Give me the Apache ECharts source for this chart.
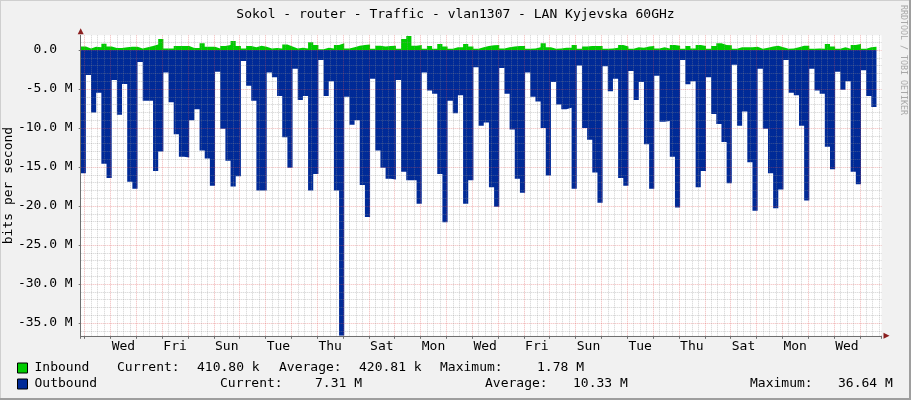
<!DOCTYPE html>
<html>
<head>
<meta charset="utf-8">
<script src="https://cdn.jsdelivr.net/npm/echarts@6/dist/echarts.min.js"></script>
<style>
html,body{margin:0;padding:0;background:#f1f1f1;}
#chart{width:911px;height:400px;}
</style>
</head>
<body>
<div id="chart"></div>
<script>
// ---- data (time in days relative to the first midnight shown; values in Mbit/s) ----
const weekdays = ['Tue', 'Wed', 'Thu', 'Fri', 'Sat', 'Sun', 'Mon'];
const firstSampleDay = -0.154;
const stepDays = 0.2;
const axisStartDay = -0.154;
const axisEndDay = 30.84;

const inboundM = [
  0.45, 0.2, 0.4, 0.35, 0.8, 0.45, 0.25, 0.25, 0.35, 0.4,
  0.4, 0.2, 0.35, 0.5, 0.7, 1.4, 0.2, 0.2, 0.5, 0.5,
  0.5, 0.25, 0.25, 0.85, 0.4, 0.4, 0.2, 0.5, 0.65, 1.15,
  0.5, 0.2, 0.5, 0.35, 0.55, 0.4, 0.2, 0.25, 0.2, 0.7,
  0.45, 0.2, 0.3, 0.2, 1.0, 0.65, 0.1, 0.3, 0.2, 0.65,
  0.85, 0.2, 0.35, 0.55, 0.65, 0.7, 0.15, 0.55, 0.45, 0.5,
  0.55, 0.15, 1.4, 1.78, 0.55, 0.65, 0.15, 0.5, 0.15, 0.75,
  0.45, 0.15, 0.35, 0.35, 0.75, 0.45, 0.15, 0.35, 0.5, 0.6,
  0.65, 0.2, 0.35, 0.45, 0.5, 0.5, 0.15, 0.2, 0.35, 0.85,
  0.35, 0.15, 0.2, 0.3, 0.3, 0.65, 0.15, 0.45, 0.5, 0.5,
  0.5, 0.15, 0.2, 0.3, 0.65, 0.45, 0.15, 0.35, 0.3, 0.45,
  0.5, 0.2, 0.35, 0.2, 0.65, 0.55, 0.15, 0.5, 0.2, 0.65,
  0.5, 0.15, 0.5, 0.85, 0.65, 0.6, 0.15, 0.35, 0.35, 0.35,
  0.4, 0.15, 0.3, 0.45, 0.55, 0.35, 0.15, 0.2, 0.35, 0.55,
  0.55, 0.15, 0.2, 0.15, 0.75, 0.45, 0.15, 0.35, 0.15, 0.65,
  0.75, 0.15, 0.35, 0.41
];

const outboundM = [
  15.8, 3.2, 8.0, 5.5, 14.6, 16.4, 3.85, 8.3, 4.36, 16.9,
  17.8, 1.54, 6.5, 6.5, 15.5, 13.0, 2.9, 6.7, 10.8, 13.7,
  13.8, 9.0, 7.6, 12.9, 13.9, 17.4, 2.8, 10.1, 14.2, 17.5,
  16.2, 1.4, 4.6, 6.5, 18.0, 18.0, 2.9, 3.5, 5.9, 11.2,
  15.1, 2.4, 6.4, 5.9, 18.0, 15.9, 1.3, 5.9, 4.0, 18.0,
  36.64, 6.0, 9.6, 9.0, 17.3, 21.4, 3.7, 12.9, 15.1, 16.5,
  16.6, 3.85, 15.6, 16.7, 16.7, 19.7, 2.9, 5.2, 5.6, 15.9,
  22.1, 6.5, 8.1, 5.8, 19.7, 16.7, 2.2, 9.7, 9.3, 17.6,
  20.1, 2.3, 5.6, 10.2, 16.5, 18.3, 2.9, 6.0, 6.6, 10.0,
  16.1, 4.1, 7.0, 7.6, 7.4, 17.8, 2.0, 10.0, 11.5, 15.7,
  19.6, 2.1, 5.3, 3.7, 16.4, 17.4, 2.7, 6.4, 4.1, 12.1,
  17.8, 3.3, 9.2, 9.1, 13.7, 20.2, 1.3, 4.4, 4.0, 17.6,
  15.5, 3.5, 8.2, 9.5, 11.8, 17.1, 1.9, 9.7, 7.9, 14.4,
  20.6, 2.4, 10.1, 15.8, 20.3, 17.9, 1.3, 5.5, 5.8, 9.7,
  19.3, 2.4, 5.2, 5.6, 12.4, 15.3, 2.8, 5.1, 4.0, 15.6,
  17.2, 2.6, 5.9, 7.31
];

const yMinBits = -36.64e6;
const yMaxBits = 1.88e6;
const yStepBits = 5e6;

const titleText = 'Sokol - router - Traffic - vlan1307 - LAN Kyjevska 60GHz';
const seriesNames = ['Inbound', 'Outbound'];
const statLabels = ['Current:', 'Average:', 'Maximum:'];
const inboundStats = ['410.80 k', '420.81 k', '1.78 M'];
const outboundStats = ['7.31 M', '10.33 M', '36.64 M'];

// ---- build ----
const MONO = '"DejaVu Sans Mono", monospace';
const GREEN = '#00CC00';
const BLUE = '#002A97';
const AXIS = '#6f6f6f';
const ARROW = '#8b1f1f';

function toSteps(vals, sign) {
  const pts = vals.map((v, i) => [firstSampleDay + i * stepDays, sign * v * 1e6]);
  pts.push([firstSampleDay + vals.length * stepDays, sign * vals[vals.length - 1] * 1e6]);
  return pts;
}

function yLabel(v) {
  if (Math.abs(v) < 1) return '0.0  ';
  return (v / 1e6).toFixed(1) + ' M';
}

function dayLabel(v) {
  const d = Math.round(v);
  if (Math.abs(v - d) > 1e-6 || d < 0) return '';
  return d % 2 === 1 ? weekdays[d % 7] : '';
}

function txt(text, x, y, extra) {
  return {
    type: 'text', x: x, y: y, silent: true,
    style: Object.assign({
      text: text, font: '13px ' + MONO, fill: '#000',
      align: 'left', textAlign: 'left', verticalAlign: 'middle', textVerticalAlign: 'middle'
    }, extra || {})
  };
}

const row1Y = 368, row2Y = 384;
const graphics = [
  { type: 'line', silent: true, shape: { x1: 0, y1: 0.5, x2: 911, y2: 0.5 }, style: { stroke: '#cfcfcf', lineWidth: 1 } },
  { type: 'line', silent: true, shape: { x1: 0.5, y1: 0, x2: 0.5, y2: 400 }, style: { stroke: '#cfcfcf', lineWidth: 1 } },
  { type: 'line', silent: true, shape: { x1: 0, y1: 399, x2: 911, y2: 399 }, style: { stroke: '#9e9e9e', lineWidth: 2 } },
  { type: 'line', silent: true, shape: { x1: 910, y1: 0, x2: 910, y2: 400 }, style: { stroke: '#9e9e9e', lineWidth: 2 } },
  txt(titleText, 455.5, 14.5, { align: 'center', textAlign: 'center' }),
  { type: 'text', x: 903, y: 60, rotation: -Math.PI / 2, silent: true,
    style: { text: 'RRDTOOL / TOBI OETIKER', font: '8.3px ' + MONO, fill: '#a8a8a8',
      align: 'center', textAlign: 'center', verticalAlign: 'middle', textVerticalAlign: 'middle' } },
  txt(statLabels[0], 117, row1Y), txt(inboundStats[0], 197, row1Y),
  txt(statLabels[1], 279, row1Y), txt(inboundStats[1], 359, row1Y),
  txt(statLabels[2], 440, row1Y), txt(inboundStats[2], 537, row1Y),
  txt(statLabels[0], 220, row2Y), txt(outboundStats[0], 315, row2Y),
  txt(statLabels[1], 485, row2Y), txt(outboundStats[1], 573, row2Y),
  txt(statLabels[2], 750, row2Y), txt(outboundStats[2], 838, row2Y)
];

const minorGrid = { color: 'rgba(143,143,143,0.42)', width: 1, type: [1, 1] };
const majorGrid = { color: 'rgba(222,80,80,0.42)', width: 1, type: [1, 1] };

const chart = echarts.init(document.getElementById('chart'), null, { renderer: 'canvas' });
chart.setOption({
  animation: false,
  backgroundColor: '#f1f1f1',
  grid: { left: 80.7, right: 29.5, top: 35.3, bottom: 64.2, show: true, backgroundColor: '#ffffff', borderWidth: 0,
    containLabel: false, outerBoundsMode: 'none' },
  legend: {
    data: seriesNames, orient: 'vertical', left: 17, top: 361.5, height: 60, padding: 0,
    itemWidth: 10, itemHeight: 10, itemGap: 3, icon: 'rect',
    itemStyle: { borderColor: '#000', borderWidth: 1 },
    textStyle: { fontFamily: MONO, fontSize: 13, color: '#000', padding: [0, 0, 0, 2], lineHeight: 10 },
    selectedMode: false
  },
  xAxis: [
    {
      type: 'value', min: axisStartDay, max: axisEndDay, minInterval: 1, maxInterval: 1, z: 5,
      axisLine: { show: true, onZero: false, lineStyle: { color: AXIS, width: 1 } },
      axisTick: { show: true, length: 3, lineStyle: { color: AXIS } },
      axisLabel: { show: false },
      splitLine: { show: true, showMinLine: false, showMaxLine: false, lineStyle: majorGrid },
      minorTick: { show: false, splitNumber: 4 },
      minorSplitLine: { show: true, lineStyle: minorGrid }
    },
    {
      type: 'value', min: axisStartDay - 0.5, max: axisEndDay - 0.5, minInterval: 1, maxInterval: 1,
      position: 'bottom', z: 6,
      axisLine: { show: true, onZero: false, symbol: ['none', 'triangle'], symbolSize: [6, 6], symbolOffset: [0, 5],
        lineStyle: { color: ARROW, width: 0 } },
      axisTick: { show: false },
      splitLine: { show: false },
      axisLabel: { show: true, formatter: dayLabel, showMinLabel: false, showMaxLabel: false,
        fontFamily: MONO, fontSize: 13, color: '#000', margin: 4 }
    }
  ],
  yAxis: [
    {
      type: 'value', min: yMinBits, max: yMaxBits, minInterval: yStepBits, maxInterval: yStepBits, z: 5,
      name: 'bits per second', nameLocation: 'middle', nameGap: 66, nameRotate: 90, nameMoveOverlap: false,
      nameTextStyle: { fontFamily: MONO, fontSize: 13, color: '#000' },
      axisLine: { show: true, onZero: false, lineStyle: { color: AXIS, width: 1 } },
      axisTick: { show: true, length: 2, lineStyle: { color: AXIS } },
      axisLabel: { formatter: yLabel, showMinLabel: false, showMaxLabel: false,
        fontFamily: MONO, fontSize: 13, color: '#000', margin: 8 },
      splitLine: { show: true, showMinLine: false, showMaxLine: false, lineStyle: majorGrid },
      minorTick: { show: false, splitNumber: 5 },
      minorSplitLine: { show: true, lineStyle: minorGrid }
    },
    {
      type: 'value', min: yMinBits, max: yMaxBits, position: 'left', z: 6,
      axisLine: { show: true, onZero: false, symbol: ['none', 'triangle'], symbolSize: [6, 6], symbolOffset: [0, 4],
        lineStyle: { color: ARROW, width: 0 } },
      axisTick: { show: false }, axisLabel: { show: false }, splitLine: { show: false }
    }
  ],
  series: [
    {
      name: seriesNames[0], type: 'line', step: 'end', xAxisIndex: 0, yAxisIndex: 0,
      data: toSteps(inboundM, 1), symbol: 'none', silent: true, z: 2,
      color: GREEN, itemStyle: { color: GREEN },
      lineStyle: { width: 0, color: GREEN }, areaStyle: { color: GREEN, opacity: 1 }
    },
    {
      name: seriesNames[1], type: 'line', step: 'end', xAxisIndex: 0, yAxisIndex: 0,
      data: toSteps(outboundM, -1), symbol: 'none', silent: true, z: 2,
      color: BLUE, itemStyle: { color: BLUE },
      lineStyle: { width: 0, color: BLUE }, areaStyle: { color: BLUE, opacity: 1 }
    }
  ],
  graphic: graphics
});
</script>
</body>
</html>
